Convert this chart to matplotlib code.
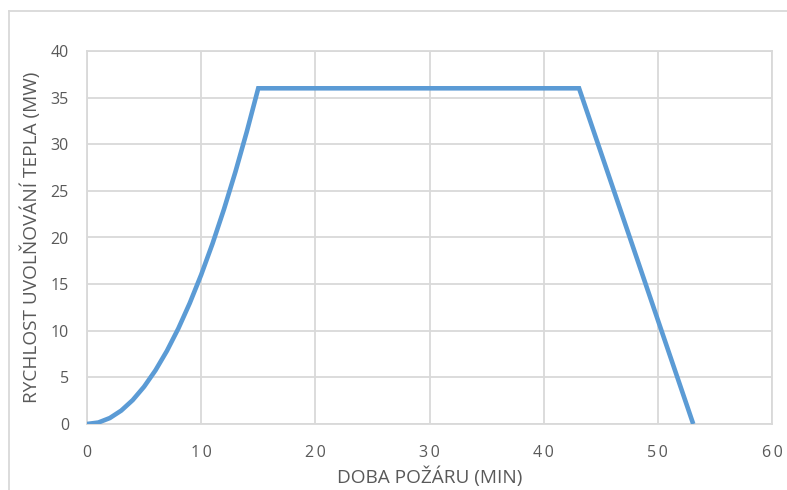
import matplotlib
matplotlib.use("Agg")
import matplotlib.pyplot as plt
from matplotlib.lines import Line2D

# Heat release rate of the design fire (MW) over time (min)
time_min = [0, 1, 2, 3, 4, 5, 6, 7, 8, 9, 10, 11, 12, 13, 14, 15, 43.1, 53.1]
hrr_mw = [0, 0.16, 0.64, 1.44, 2.56, 4.0, 5.76, 7.84, 10.24, 12.96, 16.0,
          19.36, 23.04, 27.04, 31.36, 36.0, 36.0, 0]

x_ticks = [0, 10, 20, 30, 40, 50, 60]
y_ticks = [0, 5, 10, 15, 20, 25, 30, 35, 40]
x_label = "DOBA POŽÁRU (MIN)"
y_label = "RYCHLOST UVOLŇOVÁNÍ TEPLA (MW)"

plt.rcParams['font.family'] = ['Open Sans', 'DejaVu Sans']
text_color = "#595959"
grid_color = "#D9D9D9"
line_color = "#5B9BD5"

fig = plt.figure(figsize=(7.87, 4.90), dpi=100)
ax = fig.add_axes([87 / 787, 66 / 490, 685 / 787, 373 / 490])

ax.plot(time_min, hrr_mw, color=line_color, lw=3.3, solid_joinstyle="miter",
        solid_capstyle="butt", zorder=3)

ax.set_xlim(x_ticks[0], x_ticks[-1])
ax.set_ylim(y_ticks[0], y_ticks[-1])
ax.set_xticks(x_ticks)
ax.set_xticklabels(["\u2009".join(str(v)) for v in x_ticks])
ax.set_yticks(y_ticks)
ax.set_yticklabels([str(v) for v in y_ticks])

ax.grid(True, color=grid_color, lw=1.3, zorder=0)
ax.set_axisbelow(True)
for side in ax.spines.values():
    side.set_color(grid_color)
    side.set_linewidth(1.3)
ax.tick_params(length=0, colors=text_color, labelsize=11.5)
ax.tick_params(axis="x", pad=15)
ax.tick_params(axis="y", pad=13)

ax.set_xlabel(x_label, color=text_color, fontsize=13.7, labelpad=4)
ax.set_ylabel(y_label, color=text_color, fontsize=13.7, labelpad=7)

# Chart area frame
fx = 9 / 787
fy = 1 - 11 / 490
fig.add_artist(Line2D([fx, fx], [0, fy], transform=fig.transFigure,
                      color=grid_color, lw=1.3))
fig.add_artist(Line2D([fx, 1], [fy, fy], transform=fig.transFigure,
                      color=grid_color, lw=1.3))

fig.savefig("out.png", dpi=100, facecolor="white")
